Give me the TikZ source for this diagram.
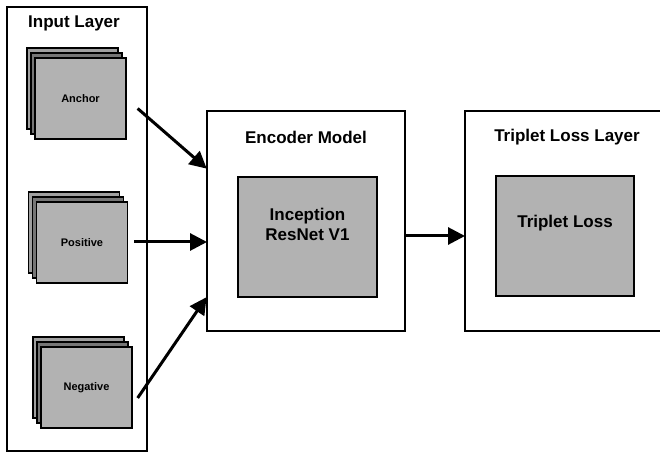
\documentclass[tikz,border=0pt]{standalone}
\usepackage{fontspec}
\setmainfont{Liberation Sans}
\usetikzlibrary{arrows.meta,shadows}

\definecolor{cardgray}{RGB}{178,178,178}
\definecolor{midgray}{RGB}{118,118,118}
\definecolor{backgray}{RGB}{160,160,160}

\begin{document}
\begin{tikzpicture}[x=1pt,y=1pt,
    layerbox/.style={draw, line width=2pt, inner sep=0pt},
    innerbox/.style={draw, line width=1.3pt, fill=cardgray, inner sep=0pt,
      minimum width=139pt, minimum height=120pt},
    title/.style={font=\fontsize{17}{20}\selectfont\bfseries},
    card/.style={draw, line width=1.3pt, fill=cardgray, inner sep=0pt,
      minimum width=91pt, minimum height=81pt,
      font=\fontsize{11}{13}\selectfont\bfseries,
      copy shadow={shadow xshift=-8pt, shadow yshift=10pt, draw=black, line width=1.3pt, fill=backgray},
      copy shadow={shadow xshift=-4pt, shadow yshift=5pt, draw=black, line width=1.3pt, fill=midgray}},
    flow/.style={line width=3pt, -{Triangle[length=17pt,width=17pt]}, shorten >=-1pt}]
  \clip (0,0) rectangle (660,454);

  % input layer
  \node[layerbox, minimum width=140pt, minimum height=444pt] (input) at (77,225) {};
  \node[title] (inputlbl) at (74,431) {Input Layer};
  \node[card] (anchor) at (80.5,355.5) {Anchor};
  \node[card] (positive) at (82,211.5) {Positive};
  \node[card] (negative) at (86.5,66.5) {Negative};

  % encoder
  \node[layerbox, minimum width=198pt, minimum height=220pt] (encoder) at (306,233) {};
  \node[title] (encoderlbl) at (306,317) {Encoder Model};
  \node[innerbox] (inception) at (307.5,217) {};
  \node[title, align=center] (inceptionlbl) at (307.5,230) {Inception\\ResNet V1};

  % triplet loss
  \node[layerbox, minimum width=199pt, minimum height=220pt] (triplet) at (564.5,233) {};
  \node[title] (tripletlbl) at (567,317) {Triplet Loss Layer};
  \node[innerbox, minimum width=138pt] (loss) at (565,218) {};
  \node[title] (losslbl) at (565,231) {Triplet Loss};

  % connectors
  \draw[flow] ([shift={(11,-10)}]anchor.east) -- ([yshift=53pt]encoder.west);
  \draw[flow] ([shift={(6,0.5)}]positive.east) -- ([yshift=-21pt]encoder.west);
  \draw[flow] ([shift={(5,-10.5)}]negative.east) -- ([yshift=-77pt]encoder.west);
  \draw[flow] ([yshift=-15pt]encoder.east) -- ([yshift=-15pt]triplet.west);
\end{tikzpicture}
\end{document}
